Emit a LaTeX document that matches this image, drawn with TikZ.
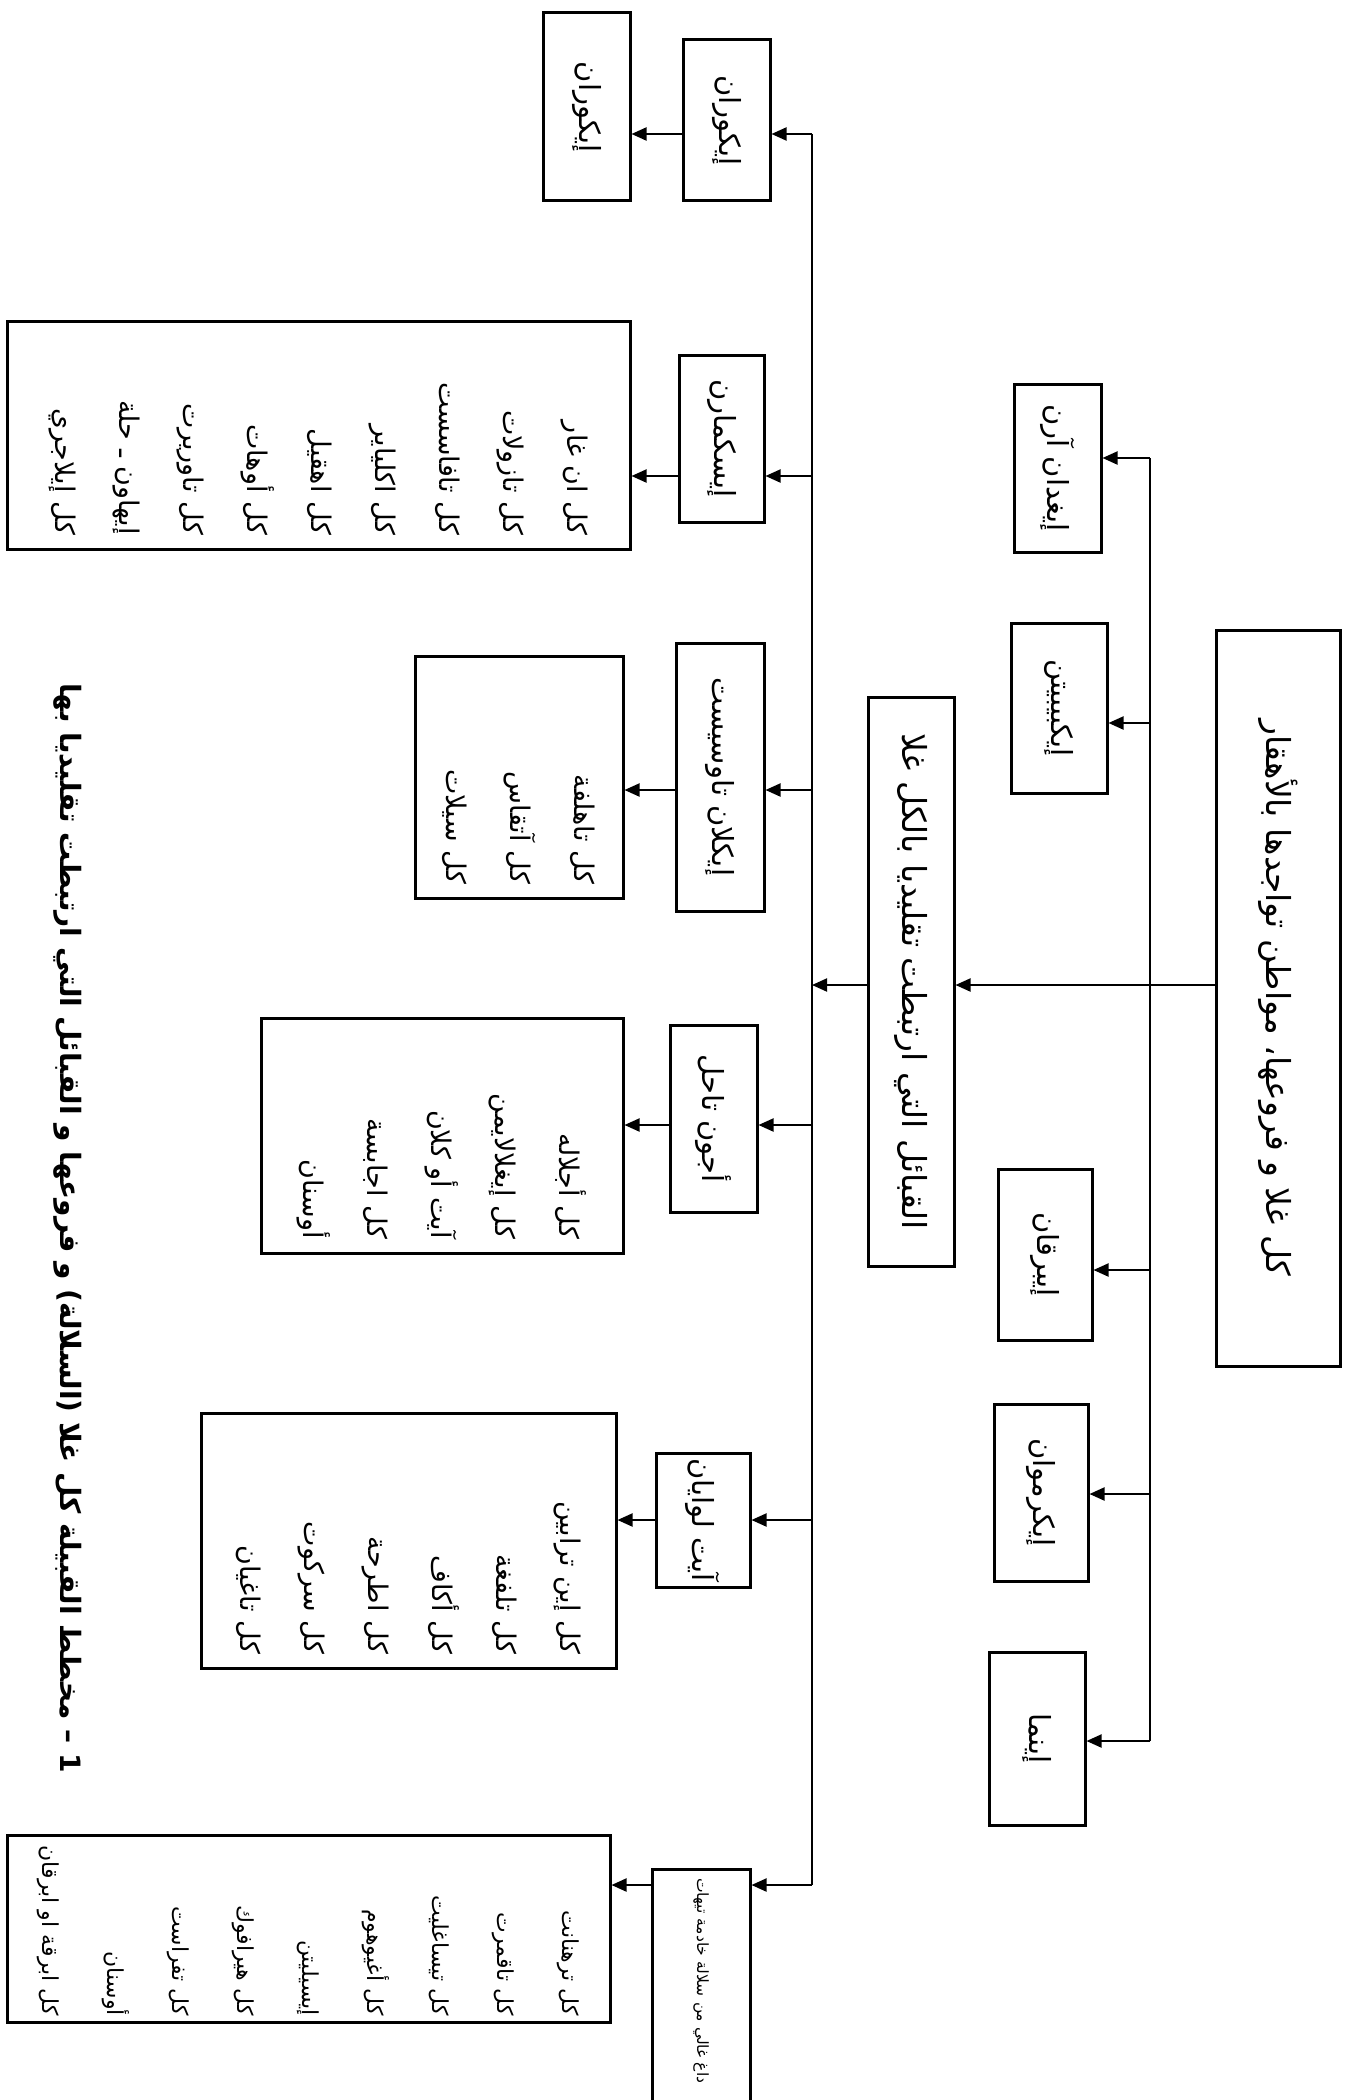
\documentclass[tikz,border=0pt]{standalone}
\usepackage{fontspec}
\usetikzlibrary{arrows.meta}
\TeXXeTstate=1
\newfontfamily\arabicfont[Script=Arabic]{DejaVu Sans}
\newcommand\artxt[1]{\beginR #1\endR}
\tikzset{
  bx/.style={draw=black, line width=3pt, rotate=-90, inner sep=0pt, align=center,
    font=\arabicfont\fontsize{29}{34}\selectfont},
  lst/.style={draw=black, line width=3pt, rotate=-90, inner ysep=0pt, inner xsep=14pt, align=right,
    font=\arabicfont\fontsize{27}{64}\selectfont},
  ln/.style={line width=2pt},
  arr/.style={line width=2pt, -{Triangle[length=15pt,width=13pt]}},
}
\begin{document}
\begin{tikzpicture}[x=1pt,y=-1pt]
\useasboundingbox (0,0) rectangle (1357,2100);
\fill[white] (0,0) rectangle (1357,2100);
\clip (0,0) rectangle (1357,2100);
% root and middle
\node[bx, minimum width=736pt, minimum height=124pt, font=\arabicfont\fontsize{33}{38}\selectfont] (root) at (1278,998) {\artxt{كل غلا و فروعها، مواطن تواجدها بالأهقار}};
\node[bx, minimum width=569pt, minimum height=86pt, font=\arabicfont\fontsize{33}{38}\selectfont] (mid) at (911,981.5) {\artxt{القبائل التي ارتبطت تقليديا بالكل غلا}};
% right column
\node[bx, minimum width=168pt, minimum height=87pt] (r1) at (1057.5,468) {\artxt{إيغدان آرن}};
\node[bx, minimum width=170pt, minimum height=96pt] (r2) at (1059,708) {\artxt{إيكبيبيتن}};
\node[bx, minimum width=171pt, minimum height=94pt] (r3) at (1045,1254.5) {\artxt{إيبرقان}};
\node[bx, minimum width=177pt, minimum height=94pt] (r4) at (1041,1492.5) {\artxt{إيكرموان}};
\node[bx, minimum width=173pt, minimum height=96pt] (r5) at (1037,1738.5) {\artxt{إينما}};
% second level
\node[bx, minimum width=161pt, minimum height=87pt] (s1) at (726.5,120.5) {\artxt{إيكوران}};
\node[bx, minimum width=167pt, minimum height=85pt] (s2) at (721.5,438.5) {\artxt{إيسكمارن}};
\node[bx, minimum width=268pt, minimum height=88pt] (s3) at (720,777) {\artxt{إيكلان تاوسيست}};
\node[bx, minimum width=187pt, minimum height=87pt] (s4) at (713.5,1118.5) {\artxt{أجون تاحل}};
\node[bx, minimum width=134pt, minimum height=94pt] (s5) at (703,1520) {\artxt{آيت لوايان}};
\node[bx, minimum width=281pt, minimum height=98pt, text width=263pt, align=left, font=\arabicfont\fontsize{15.5}{20}\selectfont] (s6) at (701,2009.5) {\artxt{داغ غالي من سلالة خادمة تيهات}};
% third level
\node[bx, minimum width=188pt, minimum height=87pt] (t1) at (586.5,107) {\artxt{إيكوران}};
\node[lst, text width=200pt, minimum height=623pt] (ba) at (318.5,435) {\artxt{كل ان غار}\\\artxt{كل تازولات}\\\artxt{كل تافاسست}\\\artxt{كل اكلياير}\\\artxt{كل اهقيل}\\\artxt{كل أوهات}\\\artxt{كل تاوريرت}\\\artxt{إيهاون ـ حلة}\\\artxt{كل إيلاجري}};
\node[lst, text width=214pt, minimum height=208pt] (bb) at (519,777) {\artxt{كل تاهلفة}\\\artxt{كل آتقاس}\\\artxt{كل سيلات}};
\node[lst, text width=207pt, minimum height=362pt] (bc) at (442,1135.5) {\artxt{كل أجلاله}\\\artxt{كل إيغلالايمن}\\\artxt{آيت أو كلان}\\\artxt{كل اجابسة}\\\artxt{أوسنان}};
\node[lst, text width=227pt, minimum height=415pt] (bd) at (408.5,1540.5) {\artxt{كل إين ترابين}\\\artxt{كل تلفغة}\\\artxt{كل أكاف}\\\artxt{كل اطرحة}\\\artxt{كل سركوت}\\\artxt{كل تاغيان}};
\node[lst, text width=175pt, inner xsep=6pt, minimum height=603pt, font=\arabicfont\fontsize{22}{65}\selectfont] (be) at (308.5,1928.5) {\artxt{كل ترهنانت}\\\artxt{كل تاقمرت}\\\artxt{كل تيساغليت}\\\artxt{كل أغيوهوم}\\\artxt{إيسيليتن}\\\artxt{كل هيرافوك}\\\artxt{كل تفراست}\\\artxt{أوسنان}\\\artxt{كل ابرقة او ابرقان}};
% title
\node[rotate=-90, font=\arabicfont\bfseries\fontsize{28}{34}\selectfont] (title) at (68,1228) {\artxt{1 – مخطط القبيلة كل غلا (السلالة) و فروعها و القبائل التي ارتبطت تقليديا بها}};
% junction coordinates
\coordinate (tr1) at (812,134);
\coordinate (tr2) at (812,476);
\coordinate (tr3) at (812,790);
\coordinate (tr4) at (812,1125);
\coordinate (tr5) at (812,1520);
\coordinate (tr6) at (812,1885);
\coordinate (trm) at (812,985);
\coordinate (rc1) at (1150,458);
\coordinate (rc2) at (1150,723);
\coordinate (rc3) at (1150,1270);
\coordinate (rc4) at (1150,1494);
\coordinate (rc5) at (1150,1741);
% connectors
\draw[arr] (root.south |- trm) -- (mid.north |- trm);
\draw[ln] (rc1) -- (rc5);
\draw[arr] (rc1) -- (rc1 -| r1.north);
\draw[arr] (rc2) -- (rc2 -| r2.north);
\draw[arr] (rc3) -- (rc3 -| r3.north);
\draw[arr] (rc4) -- (rc4 -| r4.north);
\draw[arr] (rc5) -- (rc5 -| r5.north);
\draw[arr] (mid.south |- trm) -- (trm);
\draw[ln] (tr1) -- (tr6);
\draw[arr] (tr1) -- (tr1 -| s1.north);
\draw[arr] (tr2) -- (tr2 -| s2.north);
\draw[arr] (tr3) -- (tr3 -| s3.north);
\draw[arr] (tr4) -- (tr4 -| s4.north);
\draw[arr] (tr5) -- (tr5 -| s5.north);
\draw[arr] (tr6) -- (tr6 -| s6.north);
\draw[arr] (tr1 -| s1.south) -- (tr1 -| t1.north);
\draw[arr] (tr2 -| s2.south) -- (tr2 -| ba.north);
\draw[arr] (tr3 -| s3.south) -- (tr3 -| bb.north);
\draw[arr] (tr4 -| s4.south) -- (tr4 -| bc.north);
\draw[arr] (tr5 -| s5.south) -- (tr5 -| bd.north);
\draw[arr] (tr6 -| s6.south) -- (tr6 -| be.north);
\end{tikzpicture}
\end{document}
